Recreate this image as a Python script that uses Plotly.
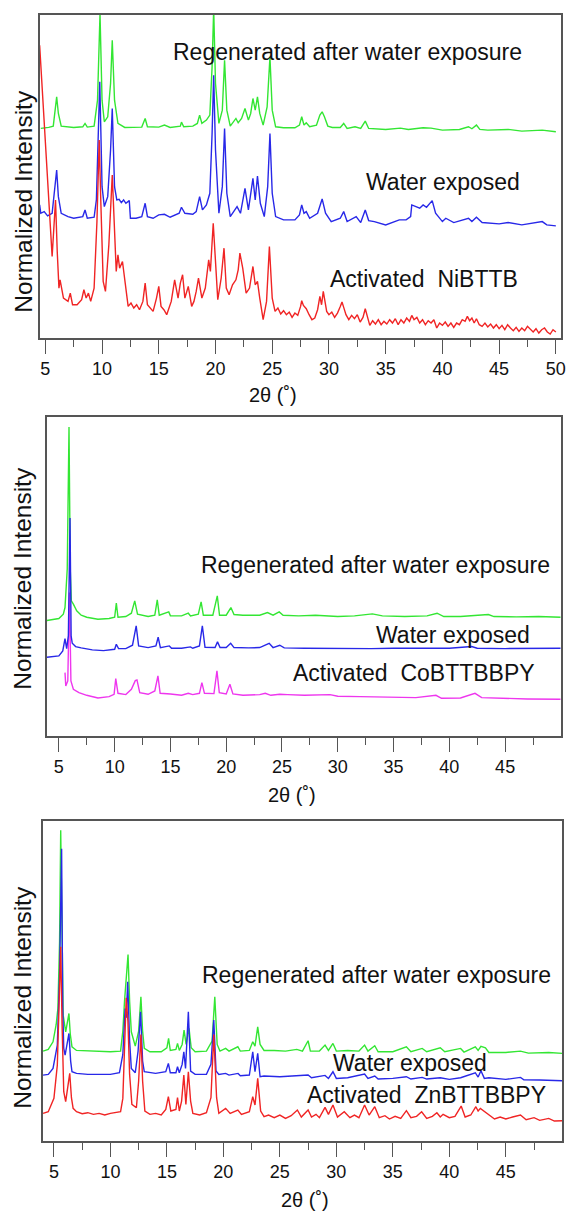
import plotly.graph_objects as go

# ---------------- data (2theta, normalized intensity, arbitrary units) ----------------
NI_REGEN = [(4.6,630),(5.3,633),(5.7,637),(5.85,685),(6.0,725),(6.15,675),(6.4,637),(7.5,633),(8.3,635),(8.5,645),(8.7,634),
            (9.3,637),(9.6,715),(9.82,975),(10.0,715),(10.2,650),(10.5,665),(10.75,765),(10.9,895),(11.1,715),(11.4,645),
            (12.0,633),(13.5,634),(13.8,660),(14.0,635),(15.0,634),(15.5,640),(16.0,633),(16.9,637),(17.0,649),(17.2,635),
            (18.0,637),(18.4,645),(18.6,670),(18.8,645),(19.2,655),(19.5,670),(19.7,815),(19.84,990),(20.0,765),(20.3,645),
            (20.6,685),(20.8,835),(21.0,685),(21.3,637),(21.8,660),(22.0,647),(22.3,660),(22.6,690),(22.9,655),(23.1,675),
            (23.3,720),(23.5,685),(23.7,725),(23.9,675),(24.2,640),(24.55,695),(24.8,845),(25.0,685),(25.3,635),(26.0,632),
            (27.0,632),(27.4,640),(27.6,665),(27.8,640),(28.0,647),(28.3,635),(28.9,640),(29.2,670),(29.4,680),(29.6,665),
            (29.9,637),(30.3,633),(31.0,633),(31.3,645),(31.6,630),(32.3,635),(32.8,630),(33.2,652),(33.5,630),(35.0,627),
            (36.3,631),(37.0,627),(38.3,632),(39.0,631),(40.0,625),(41.5,627),(42.3,635),(42.6,629),(43.0,640),(43.3,627),
            (44.0,625),(45.8,627),(47.0,622),(48.8,625),(50.0,620)]

NI_WATER = [(4.5,400),(4.6,375),(4.9,380),(5.2,367),(5.6,375),(5.85,455),(6.0,505),(6.15,425),(6.4,375),(7.0,365),(7.5,360),
            (8.3,365),(8.5,385),(8.7,360),(9.3,363),(9.5,415),(9.8,770),(10.0,455),(10.2,395),(10.5,425),(10.75,565),(10.9,690),
            (11.1,455),(11.3,415),(11.5,417),(11.7,407),(11.9,415),(12.1,405),(12.4,413),(12.5,360),(13.0,360),(13.5,365),
            (13.8,405),(14.0,365),(14.5,360),(15.0,370),(15.5,372),(16.0,363),(16.8,375),(17.0,393),(17.3,375),(18.0,372),
            (18.3,380),(18.6,425),(18.85,385),(19.2,400),(19.5,435),(19.7,615),(19.84,790),(20.0,565),(20.3,375),(20.6,455),
            (20.8,630),(21.0,435),(21.3,365),(21.9,395),(22.2,375),(22.6,450),(22.9,385),(23.3,480),(23.5,415),(23.7,487),
            (23.95,405),(24.3,365),(24.6,455),(24.8,615),(25.0,435),(25.3,365),(26.0,355),(27.0,355),(27.4,370),(27.6,400),
            (27.8,375),(28.0,380),(28.3,360),(29.0,375),(29.4,418),(29.7,375),(30.2,350),(31.0,360),(31.3,380),(31.6,350),
            (32.4,365),(32.8,347),(33.2,385),(33.5,353),(34.0,350),(35.0,340),(36.2,355),(36.8,355),(37.2,365),(37.3,400),
            (37.7,395),(38.0,390),(38.3,400),(38.6,393),(39.1,413),(39.4,375),(40.0,350),(40.3,360),(41.0,347),(42.3,360),
            (42.6,350),(43.0,363),(43.5,347),(45.0,343),(45.8,347),(47.0,340),(48.8,350),(49.2,340),(50.0,337)]

NI_ACT = [(4.5,880),(5.05,560),(5.6,245),(5.75,330),(5.9,415),(6.05,260),(6.2,150),(6.3,175),(6.6,120),(7.0,110),(7.2,135),
          (7.4,100),(7.8,100),(8.2,115),(8.4,145),(8.6,120),(8.8,135),(9.0,110),(9.3,150),(9.55,350),(9.75,595),(9.9,400),
          (10.1,170),(10.3,140),(10.6,280),(10.9,490),(11.1,330),(11.25,200),(11.4,250),(11.55,210),(11.8,230),(12.0,180),
          (12.3,95),(12.55,105),(12.8,90),(13.05,100),(13.3,85),(13.6,110),(13.8,165),(14.0,100),(14.25,90),(14.5,80),
          (14.8,120),(15.0,155),(15.2,95),(15.45,85),(15.7,70),(15.9,90),(16.1,110),(16.4,175),(16.7,120),(16.9,165),
          (17.1,190),(17.3,120),(17.6,155),(17.9,95),(18.1,110),(18.3,140),(18.5,180),(18.8,120),(19.1,150),(19.4,235),
          (19.55,200),(19.8,345),(20.0,240),(20.2,115),(20.5,180),(20.75,270),(20.95,150),(21.2,130),(21.5,160),(21.8,175),
          (22.0,205),(22.15,255),(22.4,210),(22.7,135),(23.0,150),(23.3,215),(23.5,160),(23.7,170),(23.9,120),(24.2,55),
          (24.5,110),(24.75,275),(25.0,120),(25.25,80),(25.5,90),(25.75,72),(26.0,82),(26.25,70),(26.5,78),(26.75,62),
          (27.0,75),(27.25,68),(27.5,95),(27.6,112),(27.75,98),(28.0,88),(28.25,70),(28.5,55),(28.75,60),(29.0,85),(29.2,125),
          (29.35,100),(29.5,140),(29.65,105),(29.8,80),(30.0,70),(30.25,78),(30.5,62),(30.75,75),(31.0,95),(31.15,108),
          (31.3,92),(31.5,70),(31.75,55),(32.0,68),(32.25,58),(32.5,70),(32.75,48),(33.0,62),(33.2,88),(33.4,60),(33.6,38),
          (33.85,52),(34.1,42),(34.35,55),(34.6,40),(34.85,50),(35.1,42),(35.35,55),(35.6,45),(35.85,58),(36.1,40),
          (36.35,55),(36.6,45),(36.85,60),(37.1,50),(37.3,68),(37.5,55),(37.75,62),(38.0,45),(38.25,55),(38.5,40),
          (38.75,52),(39.0,45),(39.25,55),(39.5,30),(39.75,45),(40.0,38),(40.25,48),(40.5,35),(40.75,45),(41.0,32),
          (41.25,45),(41.5,40),(41.75,55),(42.0,50),(42.2,65),(42.4,52),(42.6,60),(42.8,45),(43.0,58),(43.25,40),(43.5,35),
          (43.75,45),(44.0,33),(44.25,42),(44.5,30),(44.75,40),(45.0,28),(45.25,38),(45.5,25),(45.75,40),(46.0,30),
          (46.25,22),(46.5,32),(46.75,20),(47.0,30),(47.25,22),(47.5,35),(47.75,25),(48.0,18),(48.25,28),(48.5,15),
          (48.75,25),(49.0,30),(49.25,18),(49.5,12),(49.75,25),(50.0,18)]

CO_REGEN = [(3.93,346),(4.5,350),(5.0,352),(5.4,365),(5.55,385),(5.75,500),(5.91,926),(6.02,500),(6.12,405),(6.3,395),
            (6.6,375),(7.0,362),(7.5,356),(8.5,350),(9.5,352),(10.0,356),(10.15,398),(10.3,356),(11.0,358),(11.5,368),
            (11.8,405),(12.05,365),(13.0,358),(13.6,362),(13.82,408),(14.0,362),(14.85,372),(15.0,360),(16.0,360),
            (16.6,368),(16.8,360),(17.5,365),(17.75,402),(17.95,362),(18.8,362),(19.2,420),(19.4,362),(20.0,362),
            (20.42,385),(20.7,364),(21.5,362),(23.0,362),(23.7,370),(24.2,362),(24.75,372),(25.1,362),(26.5,360),
            (28.0,362),(30.0,358),(31.5,360),(33.1,366),(34.0,360),(36.0,358),(38.0,360),(38.9,368),(39.5,358),
            (41.0,358),(43.5,364),(44.0,358),(46.0,357),(48.0,358),(50.0,356)]

CO_WATER = [(3.93,236),(4.5,238),(5.0,240),(5.35,255),(5.55,292),(5.7,262),(5.85,300),(6.0,653),(6.1,300),(6.2,278),
            (6.5,268),(7.0,264),(8.0,258),(9.0,256),(10.0,260),(10.15,275),(10.35,262),(11.0,262),(11.6,272),(11.93,330),
            (12.15,270),(13.0,265),(13.7,270),(13.9,296),(14.1,265),(14.9,270),(15.1,263),(16.0,263),(16.8,267),(17.0,263),
            (17.6,270),(17.86,330),(18.1,266),(19.0,265),(19.22,282),(19.45,265),(20.0,265),(20.4,278),(20.7,265),
            (22.0,264),(23.0,265),(23.85,278),(24.2,265),(24.8,272),(25.2,264),(27.0,263),(29.0,262),(31.0,263),
            (33.0,262),(35.0,263),(38.0,262),(40.0,263),(42.0,268),(42.5,263),(45.0,262),(48.0,262),(50.0,263)]

CO_ACT = [(5.55,190),(5.62,150),(5.8,165),(5.95,430),(6.08,165),(6.3,140),(6.8,130),(7.5,122),(8.5,114),(9.5,118),
          (9.95,125),(10.1,172),(10.3,128),(11.0,124),(11.5,140),(11.85,166),(12.0,168),(12.25,130),(13.0,125),
          (13.6,135),(13.88,180),(14.08,128),(15.0,126),(16.0,122),(16.6,128),(17.0,124),(17.6,128),(17.82,160),
          (18.05,128),(18.9,127),(19.17,195),(19.38,130),(20.0,126),(20.33,155),(20.6,126),(21.5,122),(23.0,124),
          (23.5,128),(24.0,122),(24.8,125),(25.5,124),(27.0,122),(29.3,124),(30.0,119),(32.0,118),(35.0,115),
          (37.0,115),(38.8,122),(39.3,113),(41.0,114),(42.3,128),(42.9,115),(45.0,112),(47.0,111),(50.0,110)]

ZN_REGEN = [(4.04,270),(4.5,275),(4.92,298),(5.2,350),(5.35,398),(5.5,600),(5.6,933),(5.72,600),(5.82,378),(6.04,328),
            (6.2,360),(6.33,383),(6.45,320),(6.6,283),(7.0,272),(8.0,270),(9.0,268),(10.0,268),(10.9,270),(11.1,330),
            (11.25,420),(11.4,480),(11.56,560),(11.7,420),(11.85,328),(12.2,285),(12.5,330),(12.7,433),(12.85,330),
            (13.0,278),(13.5,268),(14.5,268),(15.0,280),(15.15,308),(15.3,272),(15.8,275),(15.94,293),(16.1,272),
            (16.35,290),(16.52,333),(16.7,290),(16.96,338),(17.15,280),(17.5,268),(18.5,270),(19.0,300),(19.24,433),
            (19.45,290),(19.7,270),(20.2,278),(20.5,270),(21.28,283),(21.5,270),(22.3,272),(22.6,298),(22.8,285),
            (23.04,343),(23.25,290),(23.6,272),(24.5,272),(25.5,270),(26.5,275),(27.0,270),(27.5,301),(27.7,270),
            (28.5,270),(29.0,288),(29.3,272),(29.7,293),(30.0,270),(31.0,272),(32.0,270),(32.5,288),(32.8,270),
            (33.4,286),(33.7,268),(35.0,268),(36.2,283),(36.6,268),(37.6,278),(38.0,268),(39.2,280),(39.6,268),
            (41.0,278),(41.3,267),(42.3,283),(42.55,272),(42.8,284),(43.2,280),(43.5,266),(45.0,266),(46.3,270),
            (47.0,264),(48.8,266),(50.0,263)]

ZN_WATER = [(4.04,198),(4.5,200),(4.92,218),(5.3,288),(5.5,500),(5.68,878),(5.78,400),(5.87,278),(5.99,258),(6.15,290),
            (6.33,323),(6.48,240),(6.6,208),(7.0,203),(8.0,200),(9.0,200),(10.0,200),(10.8,205),(11.1,260),(11.3,398),
            (11.4,370),(11.53,478),(11.7,300),(11.85,218),(12.2,205),(12.45,270),(12.67,388),(12.85,240),(13.0,208),
            (14.0,203),(14.9,208),(15.13,233),(15.3,205),(15.8,205),(15.94,223),(16.1,205),(16.35,230),(16.5,268),
            (16.65,218),(16.9,388),(17.1,210),(17.5,200),(18.5,200),(18.9,230),(19.15,363),(19.35,210),(19.6,200),
            (20.2,203),(20.5,198),(21.3,203),(21.5,196),(22.3,198),(22.6,268),(22.8,208),(23.04,263),(23.25,193),
            (23.6,195),(25.0,193),(26.5,195),(27.5,198),(27.8,190),(29.0,197),(29.3,188),(29.7,208),(30.0,188),
            (31.0,190),(32.5,201),(32.8,188),(33.4,195),(33.7,186),(35.0,188),(36.2,193),(36.6,186),(37.6,191),
            (38.0,186),(39.2,190),(40.0,185),(41.0,190),(42.3,205),(42.55,192),(42.8,211),(43.1,188),(43.5,190),
            (45.0,185),(46.3,191),(46.6,184),(48.0,183),(50.0,181)]

ZN_ACT = [(4.04,83),(4.5,88),(5.0,128),(5.3,228),(5.45,400),(5.6,583),(5.72,350),(5.87,148),(6.04,118),(6.2,160),
          (6.4,203),(6.55,130),(6.7,98),(7.0,88),(7.5,82),(8.0,85),(8.5,80),(9.0,83),(9.5,78),(10.0,83),(10.9,88),
          (11.1,128),(11.25,300),(11.4,430),(11.55,360),(11.7,200),(11.9,110),(12.3,100),(12.5,180),(12.7,320),
          (12.85,180),(13.05,90),(13.5,80),(14.0,83),(14.5,78),(14.9,95),(15.13,133),(15.35,90),(15.8,95),(15.94,130),
          (16.1,90),(16.3,120),(16.5,198),(16.68,110),(16.9,208),(17.1,120),(17.3,83),(17.9,78),(18.5,85),(18.9,130),
          (19.15,320),(19.4,130),(19.6,83),(20.2,98),(20.6,83),(21.28,93),(21.6,80),(22.3,88),(22.6,133),(22.8,108),
          (23.04,188),(23.3,90),(23.6,73),(24.0,78),(24.5,70),(25.0,78),(25.5,68),(26.0,76),(26.55,93),(26.9,72),
          (27.5,93),(27.8,72),(28.2,80),(28.5,70),(29.0,101),(29.3,80),(29.7,108),(30.1,72),(30.7,88),(31.2,70),
          (31.6,78),(32.0,70),(32.5,108),(32.9,78),(33.4,103),(33.8,70),(34.3,76),(34.7,66),(35.2,74),(35.7,68),
          (36.2,91),(36.6,70),(37.1,74),(37.55,88),(38.0,68),(38.5,74),(38.9,85),(39.2,72),(39.45,80),(40.0,70),
          (40.5,74),(41.05,105),(41.4,72),(41.9,78),(42.35,103),(42.55,90),(42.75,98),(43.4,80),(44.0,66),(44.5,72),
          (45.0,66),(45.6,72),(46.3,78),(46.8,64),(47.5,70),(48.0,62),(48.8,68),(49.3,60),(50.0,61)]

PANEL_LABELS = [
    ["Regenerated after water exposure", "Water exposed", "Activated  NiBTTB"],
    ["Regenerated after water exposure", "Water exposed", "Activated  CoBTTBBPY"],
    ["Regenerated after water exposure", "Water exposed", "Activated  ZnBTTBBPY"],
]
X_TITLE = "2θ (˚)"
Y_TITLE = "Normalized Intensity"
TICKS_P1 = [5, 10, 15, 20, 25, 30, 35, 40, 45, 50]
TICKS_P23 = [5, 10, 15, 20, 25, 30, 35, 40, 45]

# ---------------- styling / layout ----------------
W, H = 574, 1212
GREEN, BLUE, RED, MAGENTA = "#33e633", "#2828e8", "#f02424", "#ee36ee"
FONT = "Liberation Sans, Arial, sans-serif"
FRAME = "#555555"

def px_x(p):
    return p / W

def px_y(p):
    return 1 - p / H

panels = [
    dict(series=[(NI_REGEN, GREEN), (NI_WATER, BLUE), (NI_ACT, RED)], frame=(40, 566, 15, 338),
         xrange=[4.5, 50.46], yrange=[0, 971], ticks=TICKS_P1,
         labels=[(351, 52), (447, 182), (428, 279)], xt=(275, 395), yt=(23, 201)),
    dict(series=[(CO_ACT, MAGENTA), (CO_REGEN, GREEN), (CO_WATER, BLUE)], frame=(47, 565.5, 417, 736),
         xrange=[3.9, 49.97], yrange=[0, 956], ticks=TICKS_P23,
         labels=[(378.5, 565), (456.6, 635), (417.3, 672.7)], xt=(295, 795), yt=(22, 578)),
    dict(series=[(ZN_REGEN, GREEN), (ZN_WATER, BLUE), (ZN_ACT, RED)], frame=(43, 567, 821, 1141),
         xrange=[4.0, 49.98], yrange=[0, 961], ticks=TICKS_P23,
         labels=[(379.4, 975), (413.6, 1063), (430.5, 1095)], xt=(307.5, 1200), yt=(22, 997)),
]

fig = go.Figure()
annotations = []
layout = {}
for i, p in enumerate(panels, start=1):
    xa = "x" if i == 1 else f"x{i}"
    ya = "y" if i == 1 else f"y{i}"
    for pts, col in p["series"]:
        fig.add_trace(go.Scatter(x=[a for a, b in pts], y=[b for a, b in pts], mode="lines",
                                 line=dict(color=col, width=1.4), xaxis=xa, yaxis=ya,
                                 showlegend=False, hoverinfo="skip", cliponaxis=True))
    l, r, t, b = p["frame"]
    layout["xaxis" if i == 1 else f"xaxis{i}"] = dict(
        domain=[px_x(l), px_x(r)], anchor=ya, range=p["xrange"],
        showline=True, mirror=True, linecolor=FRAME, linewidth=1.5,
        showgrid=False, zeroline=False,
        tickmode="array", tickvals=p["ticks"], ticktext=[str(v) for v in p["ticks"]],
        ticks="outside", ticklen=14, tickwidth=1.3, tickcolor=FRAME,
        tickfont=dict(family=FONT, size=18, color="#111111"), ticklabelstandoff=0,
        minor=dict(ticks="outside", dtick=2.5, tick0=5, ticklen=7, tickwidth=1.3, tickcolor=FRAME, showgrid=False),
    )
    layout["yaxis" if i == 1 else f"yaxis{i}"] = dict(
        domain=[px_y(b), px_y(t)], anchor=xa, range=p["yrange"],
        showline=True, mirror=True, linecolor=FRAME, linewidth=1.5,
        showgrid=False, zeroline=False, showticklabels=False, ticks="",
    )
    for txt, (lx, ly) in zip(PANEL_LABELS[i - 1], p["labels"]):
        annotations.append(dict(text=txt, x=px_x(lx), y=px_y(ly), xref="paper", yref="paper",
                                xanchor="center", yanchor="middle", showarrow=False,
                                font=dict(family=FONT, size=23, color="#111111")))
    annotations.append(dict(text=X_TITLE, x=px_x(p["xt"][0]), y=px_y(p["xt"][1]), xref="paper", yref="paper",
                            xanchor="center", yanchor="middle", showarrow=False,
                            font=dict(family=FONT, size=20, color="#111111")))
    annotations.append(dict(text=Y_TITLE, x=px_x(p["yt"][0]), y=px_y(p["yt"][1]), xref="paper", yref="paper",
                            xanchor="center", yanchor="middle", showarrow=False, textangle=-90,
                            font=dict(family=FONT, size=24.5, color="#111111")))

fig.update_layout(width=W, height=H, margin=dict(l=0, r=0, t=0, b=0),
                  paper_bgcolor="white", plot_bgcolor="white", annotations=annotations, **layout)
fig.write_html("out.html")
